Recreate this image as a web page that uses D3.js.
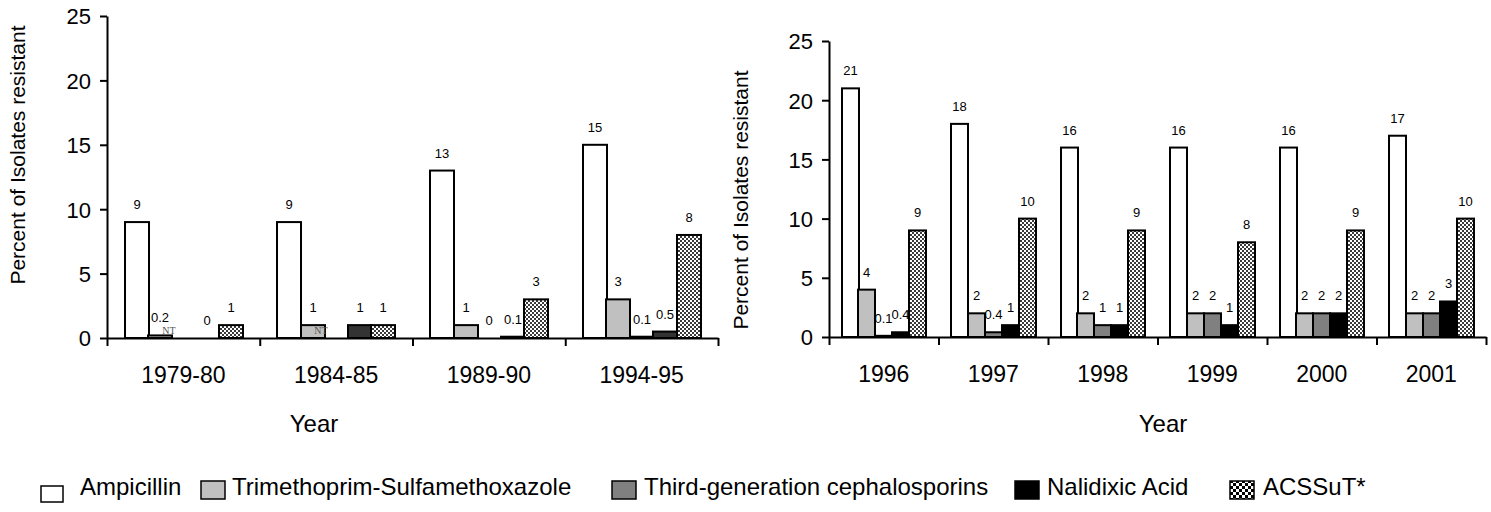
<!DOCTYPE html>
<html>
<head>
<meta charset="utf-8">
<script src="https://cdn.jsdelivr.net/npm/d3@7"></script>
<style>
  body { margin: 0; background: #fff; }
  text { font-family: "Liberation Sans", Arial, sans-serif; fill: #000; }
</style>
</head>
<body>
<script>
const drugs = [
  "Ampicillin",
  "Trimethoprim-Sulfamethoxazole",
  "Third-generation cephalosporins",
  "Nalidixic Acid",
  "ACSSuT*"
];

// left panel: 5-year periods (null = not tested, shown as "NT")
const leftYears = ["1979-80", "1984-85", "1989-90", "1994-95"];
const leftAmpicillin = [9, 9, 13, 15];
const leftTmpSmx = [0.2, 1, 1, 3];
const leftCeph = [null, null, 0, 0.1];
const leftNalidixic = [0, 1, 0.1, 0.5];
const leftAcssut = [1, 1, 3, 8];

// right panel: single years
const rightYears = ["1996", "1997", "1998", "1999", "2000", "2001"];
const rightAmpicillin = [21, 18, 16, 16, 16, 17];
const rightTmpSmx = [4, 2, 2, 2, 2, 2];
const rightCeph = [0.1, 0.4, 1, 2, 2, 2];
const rightNalidixic = [0.4, 1, 1, 1, 2, 3];
const rightAcssut = [9, 10, 9, 8, 9, 10];

const yTicks = [0, 5, 10, 15, 20, 25];

const width = 1491;
const height = 512;

const svg = d3.select("body").append("svg")
  .attr("width", width)
  .attr("height", height);

const defs = svg.append("defs");

function checker(id, cell, ink) {
  const p = defs.append("pattern")
    .attr("id", id)
    .attr("patternUnits", "userSpaceOnUse")
    .attr("width", cell * 2).attr("height", cell * 2);
  p.append("rect").attr("width", cell * 2).attr("height", cell * 2).attr("fill", "#fff");
  p.append("rect").attr("width", cell).attr("height", cell).attr("fill", ink);
  p.append("rect").attr("x", cell).attr("y", cell).attr("width", cell).attr("height", cell).attr("fill", ink);
}
checker("checkFine", 2, "#3a3a3a");
checker("checkCoarse", 3, "#000");

function drawPanel(o) {
  const g = svg.append("g");

  const y = d3.scaleLinear().domain([0, 25]).range([o.bottom, o.top]);
  const x = d3.scaleBand().domain(o.years).range([o.left, o.right]);
  const bw = x.bandwidth();
  const inner = d3.scaleBand().domain(drugs).range([bw * 0.115, bw * 0.885]);
  const barW = Math.round(inner.bandwidth());
  const barX = (year, drug) => Math.round(x(year) + inner(drug));

  const rows = o.years.map((year, i) => ({
    year: year,
    values: drugs.map((drug, k) => ({ year: year, drug: drug, value: o.series[k][i] }))
  }));

  const group = g.selectAll("g.year")
    .data(rows)
    .enter()
    .append("g")
    .attr("class", "year");

  group.selectAll("rect")
    .data((d) => d.values.filter((v) => v.value != null && v.value > 0))
    .enter()
    .append("rect")
    .attr("x", (d) => barX(d.year, d.drug))
    .attr("width", barW)
    .attr("y", (d) => y(d.value))
    .attr("height", (d) => y(0) - y(d.value))
    .attr("fill", (d) => o.fills[drugs.indexOf(d.drug)])
    .attr("stroke", "#000")
    .attr("stroke-width", 2);

  group.selectAll("text.value")
    .data((d) => d.values.filter((v) => v.value != null))
    .enter()
    .append("text")
    .attr("class", "value")
    .attr("x", (d) => barX(d.year, d.drug) + barW / 2)
    .attr("y", (d) => y(d.value) - 13)
    .attr("text-anchor", "middle")
    .style("font-size", "13px")
    .text((d) => d.value);

  group.selectAll("text.nt")
    .data((d) => d.values.filter((v) => v.value == null))
    .enter()
    .append("text")
    .attr("class", "nt")
    .attr("x", (d) => barX(d.year, d.drug) - 3)
    .attr("y", y(0) - 4)
    .attr("text-anchor", "middle")
    .style("font-family", "'Liberation Serif', 'Times New Roman', serif")
    .style("font-size", "10px")
    .style("fill", "#555")
    .text("NT");

  // y axis
  const yAxis = g.append("g")
    .attr("transform", `translate(${o.left},0)`)
    .call(d3.axisLeft(y).tickValues(yTicks).tickSize(7).tickSizeOuter(0).tickPadding(9));
  yAxis.selectAll("path, line").attr("stroke", "#000").attr("stroke-width", 2);
  yAxis.selectAll("text").style("font-size", "22px").attr("dy", "0.36em")
    .style("font-family", "'Liberation Sans', Arial, sans-serif");

  // x axis: ticks on the group boundaries
  const xb = d3.scaleLinear().domain([0, o.years.length]).range([o.left, o.right]);
  const xAxis = g.append("g")
    .attr("transform", `translate(0,${y(0)})`)
    .call(d3.axisBottom(xb).tickValues(d3.range(o.years.length + 1))
      .tickSize(8).tickSizeOuter(0).tickFormat(""));
  xAxis.selectAll("path, line").attr("stroke", "#000").attr("stroke-width", 2);

  const xLabels = g.append("g")
    .attr("transform", `translate(0,${y(0)})`)
    .call(d3.axisBottom(x).tickSize(0).tickPadding(29));
  xLabels.select(".domain").remove();
  xLabels.selectAll("text").style("font-size", "23px")
    .style("font-family", "'Liberation Sans', Arial, sans-serif");

  g.append("text")
    .attr("x", o.yearX)
    .attr("y", 432)
    .attr("text-anchor", "middle")
    .style("font-size", "24px")
    .text("Year");

  g.append("text")
    .attr("transform", `translate(${o.titleX},${o.titleY}) rotate(-90)`)
    .attr("text-anchor", "middle")
    .attr("dy", "0.35em")
    .style("font-size", "21px")
    .text("Percent of Isolates resistant");
}

drawPanel({
  years: leftYears,
  series: [leftAmpicillin, leftTmpSmx, leftCeph, leftNalidixic, leftAcssut],
  fills: ["#fff", "#c0c0c0", "#808080", "#333", "url(#checkFine)"],
  left: 107, right: 718, top: 16, bottom: 338,
  yearX: 314, titleX: 17.5, titleY: 155
});

drawPanel({
  years: rightYears,
  series: [rightAmpicillin, rightTmpSmx, rightCeph, rightNalidixic, rightAcssut],
  fills: ["#fff", "#c0c0c0", "#808080", "#000", "url(#checkFine)"],
  left: 829, right: 1486, top: 41, bottom: 337,
  yearX: 1163, titleX: 741, titleY: 200
});

// legend
const legendFills = ["#fff", "#c0c0c0", "#808080", "#000", "url(#checkCoarse)"];
const legendBoxX = [41, 201, 612, 1015, 1230];
const legendTextX = [80, 232, 644, 1047, 1263];

const legend = svg.append("g").attr("class", "legend");
const item = legend.selectAll("g")
  .data(drugs)
  .enter()
  .append("g");

item.append("rect")
  .attr("x", (d, i) => legendBoxX[i])
  .attr("y", (d, i) => (i === 0 ? 486 : 481))
  .attr("width", (d, i) => (i === 0 ? 22 : 24))
  .attr("height", (d, i) => (i === 0 ? 16 : 18))
  .attr("fill", (d, i) => legendFills[i])
  .attr("stroke", "#000")
  .attr("stroke-width", 1.5);

item.append("text")
  .attr("x", (d, i) => legendTextX[i])
  .attr("y", 495)
  .style("font-size", "24px")
  .text((d) => d);
</script>
</body>
</html>
